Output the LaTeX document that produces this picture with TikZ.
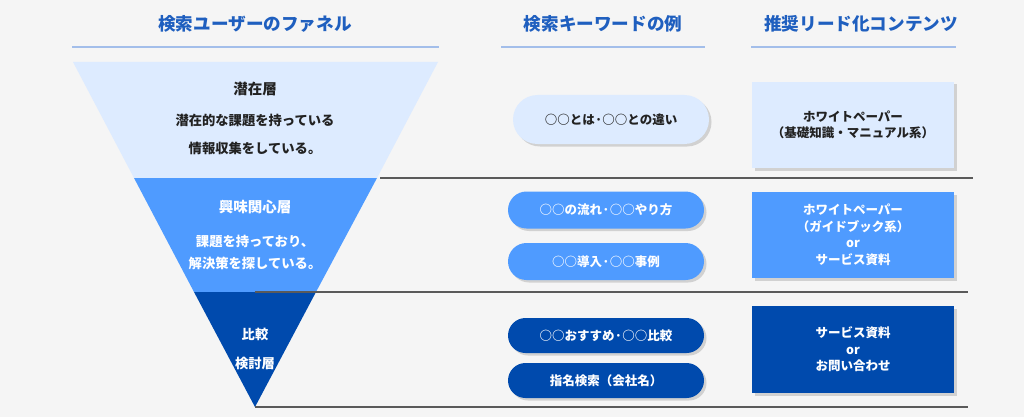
\documentclass[tikz,border=0pt]{standalone}
\usepackage{fontspec}
\setmainfont{Noto Sans CJK JP}
\usepackage{xcolor}
\usetikzlibrary{positioning,shadows,shapes.misc}
\definecolor{bgGray}{HTML}{F5F5F5}
\definecolor{titleBlue}{HTML}{1F5FBF}
\definecolor{ruleBlue}{HTML}{A3BEEA}
\definecolor{sepGray}{HTML}{5A5A5A}
\definecolor{paleBlue}{HTML}{DDEBFF}
\definecolor{midBlue}{HTML}{4F9BFF}
\definecolor{deepBlue}{HTML}{004AAD}
\definecolor{inkDark}{HTML}{222222}
\tikzset{%
	headline/.style = {font=\fontsize{17.6}{20}\selectfont\bfseries, text=titleBlue},
	headrule/.style = {draw=ruleBlue, line width=1.5pt},
	sepline/.style  = {draw=sepGray, line width=1.1pt},
	layername/.style= {font=\fontsize{14.5}{17}\selectfont\bfseries},
	layertext/.style= {font=\fontsize{13.3}{22}\selectfont\bfseries, align=center},
	keyword/.style  = {rounded rectangle, minimum width=196pt, minimum height=37pt, inner sep=0pt,
		font=\fontsize{12.5}{15}\selectfont\bfseries, drop shadow={shadow xshift=2.5pt, shadow yshift=-2.5pt, opacity=0.3}},
	content/.style  = {rectangle, minimum width=202pt, minimum height=86pt, inner sep=0pt, align=center,
		font=\fontsize{12.5}{16.5}\selectfont\bfseries, drop shadow={shadow xshift=2.5pt, shadow yshift=-2.5pt, opacity=0.3}},
}
\begin{document}
\begin{tikzpicture}[x=1pt,y=-1pt]
	\fill[bgGray] (0,0) rectangle (1024,417);
	\useasboundingbox (0,0) rectangle (1024,417);
	% headings
	\node[headline] (title-funnel) at (255,24) {検索ユーザーのファネル};
	\node[headline] (title-keyword) at (603,24) {検索キーワードの例};
	\node[headline] (title-content) at (861,24) {推奨リード化コンテンツ};
	\draw[headrule] (72,47) -- (439,47);
	\draw[headrule] (501,47) -- (705,47);
	\draw[headrule] (751,47) -- (956,47);
	% funnel
	\fill[paleBlue] (73,62) -- (438,62) -- (377,178) -- (134,178) -- cycle;
	\fill[midBlue] (134,178) -- (377,178) -- (316,292) -- (194,292) -- cycle;
	\fill[deepBlue] (194,292) -- (316,292) -- (255,407) -- cycle;
	\draw[sepline] (380,178) -- (973,178);
	\draw[sepline] (255,292) -- (968,292);
	\draw[sepline] (255,407) -- (968,407);
	\node[layername, text=inkDark] (latent) at (255,89) {潜在層};
	\node[layertext, text=inkDark] (latent-a) at (255,120) {潜在的な課題を持っている};
	\node[layertext, text=inkDark] (latent-b) at (255,148) {情報収集をしている。};
	\node[layername, text=white] (interest) at (255,207) {興味関心層};
	\node[layertext, text=white] (interest-a) at (255,252) {課題を持っており、\\解決策を探している。};
	\node[layertext, text=white] (compare-a) at (255,334) {比較};
	\node[layertext, text=white] (compare-b) at (255,363) {検討層};
	% keywords
	\node[keyword, fill=paleBlue, text=inkDark, minimum height=49pt] (kw-what) at (611,119.5) {○○とは·○○との違い};
	\node[keyword, fill=midBlue, text=white] (kw-flow) at (606,210) {○○の流れ·○○やり方};
	\node[keyword, fill=midBlue, text=white] (kw-case) at (606,261.5) {○○導入·○○事例};
	\node[keyword, fill=deepBlue, text=white, minimum height=35pt] (kw-best) at (606,335.5) {○○おすすめ·○○比較};
	\node[keyword, fill=deepBlue, text=white, minimum height=35pt] (kw-name) at (606,380.5) {指名検索（会社名）};
	% contents
	\node[content, fill=paleBlue, text=inkDark] (ct-paper) at (853,125) {ホワイトペーパー\\（基礎知識・マニュアル系）};
	\node[content, fill=midBlue, text=white] (ct-guide) at (853,235) {ホワイトペーパー\\（ガイドブック系）\\or\\サービス資料};
	\node[content, fill=deepBlue, text=white, minimum height=87pt] (ct-contact) at (853,349.5) {サービス資料\\or\\お問い合わせ};
\end{tikzpicture}
\end{document}
